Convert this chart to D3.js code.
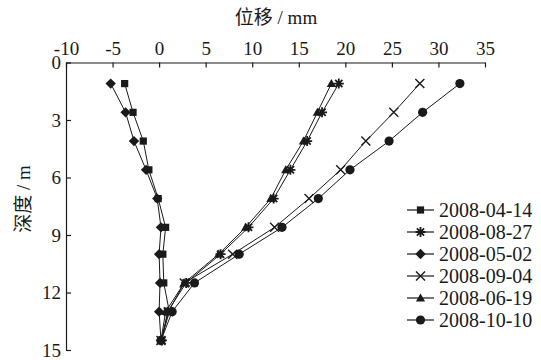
<!DOCTYPE html>
<html>
<head>
<meta charset="utf-8">
<script src="https://cdn.jsdelivr.net/npm/d3@7"></script>
<style>
	body { margin: 0; background: #fff; }
</style>
</head>
<body>
<svg id="chart"></svg>
<script>
let width = 541;
let height = 360;
const fontStack = '"Liberation Serif", "Times New Roman", Times, "Noto Sans CJK SC", serif';

// depth of each measuring point (m)
const depths = [1.1, 2.6, 4.1, 5.6, 7.1, 8.6, 10.0, 11.5, 13.0, 14.5];

// displacement (mm) per survey date
const d20080414 = [-3.7, -2.8, -1.7, -1.1, -0.1, 0.7, 0.4, 0.5, 1.1, 0.2];
const d20080502 = [-5.2, -3.6, -2.7, -1.4, -0.2, 0.2, 0.0, 0.1, 0.0, 0.2];
const d20080619 = [18.5, 17.0, 15.5, 13.6, 12.0, 9.3, 6.4, 2.7, 0.7, 0.2];
const d20080827 = [19.3, 17.5, 15.9, 14.1, 12.3, 9.6, 6.6, 2.9, 0.9, 0.3];
const d20080904 = [28.0, 25.2, 22.2, 19.5, 16.1, 12.4, 7.9, 2.7, 1.0, 0.2];
const d20081010 = [32.3, 28.3, 24.7, 20.5, 17.1, 13.2, 8.6, 3.8, 1.4, 0.2];

// legend order as in the figure
const seriesNames = ["2008-04-14", "2008-08-27", "2008-05-02", "2008-09-04", "2008-06-19", "2008-10-10"];
const seriesValues = [d20080414, d20080827, d20080502, d20080904, d20080619, d20081010];
const seriesMarkers = ["square", "asterisk", "diamond", "cross", "triangle", "circle"];

const xTicks = [-10, -5, 0, 5, 10, 15, 20, 25, 30, 35];
const yTicks = [0, 3, 6, 9, 12, 15];

const x = d3.scaleLinear().domain([-10, 35]).range([66, 485]);
const y = d3.scaleLinear().domain([0, 15]).range([62.5, 350]);

const ink = "#1a1a1a";

function drawMarker(g, type, cx, cy) {
	if (type === "square") {
		g.append("rect").attr("x", cx - 3.6).attr("y", cy - 3.6)
			.attr("width", 7.2).attr("height", 7.2).attr("fill", ink);
	} else if (type === "diamond") {
		g.append("path")
			.attr("d", `M${cx},${cy - 5.2}L${cx + 5.2},${cy}L${cx},${cy + 5.2}L${cx - 5.2},${cy}Z`)
			.attr("fill", ink);
	} else if (type === "triangle") {
		g.append("path")
			.attr("d", `M${cx},${cy - 4.6}L${cx + 4.6},${cy + 3.4}L${cx - 4.6},${cy + 3.4}Z`)
			.attr("fill", ink);
	} else if (type === "circle") {
		g.append("circle").attr("cx", cx).attr("cy", cy).attr("r", 4.6).attr("fill", ink);
	} else if (type === "cross") {
		const r = 4.5;
		g.append("path")
			.attr("d", `M${cx - r},${cy - r}L${cx + r},${cy + r}M${cx - r},${cy + r}L${cx + r},${cy - r}`)
			.attr("stroke", ink).attr("stroke-width", 1.4).attr("fill", "none");
	} else if (type === "asterisk") {
		const r = 5, q = 3.6;
		g.append("path")
			.attr("d", `M${cx - r},${cy}L${cx + r},${cy}M${cx},${cy - r}L${cx},${cy + r}` +
				`M${cx - q},${cy - q}L${cx + q},${cy + q}M${cx - q},${cy + q}L${cx + q},${cy - q}`)
			.attr("stroke", ink).attr("stroke-width", 1.8).attr("fill", "none");
		g.append("circle").attr("cx", cx).attr("cy", cy).attr("r", 2.2).attr("fill", ink);
	}
}

function draw() {
	const svg = d3.select("#chart");
	svg.selectAll("*").remove();
	svg.attr("width", width).attr("height", height);

	svg.append("rect").attr("width", width).attr("height", height).attr("fill", "#fff");

	// top axis
	const xAxis = svg.append("g")
		.attr("transform", `translate(0,${y(0)})`)
		.call(d3.axisTop(x).tickValues(xTicks).tickFormat((d) => String(d))
			.tickSizeInner(-5).tickSizeOuter(0).tickPadding(8));
	xAxis.attr("font-family", null);
	xAxis.selectAll("text")
		.style("font-family", fontStack).style("font-size", "19px").attr("fill", ink);

	// left axis
	const yAxis = svg.append("g")
		.attr("transform", `translate(${x(-10)},0)`)
		.call(d3.axisLeft(y).tickValues(yTicks).tickFormat((d) => String(d))
			.tickSizeInner(-5).tickSizeOuter(0).tickPadding(5));
	yAxis.attr("font-family", null);
	yAxis.selectAll("text")
		.style("font-family", fontStack).style("font-size", "19px").attr("fill", ink);

	svg.selectAll(".domain, .tick line").attr("stroke", ink).attr("stroke-width", 1.2);

	// axis titles
	svg.append("text")
		.attr("x", 276).attr("y", 24)
		.attr("text-anchor", "middle")
		.style("font-family", fontStack)
		.style("font-size", "19px")
		.attr("fill", ink)
		.text("位移 / mm");

	svg.append("text")
		.attr("transform", "translate(30,199) rotate(-90)")
		.attr("text-anchor", "middle")
		.style("font-family", fontStack)
		.style("font-size", "19px")
		.attr("fill", ink)
		.text("深度 / m");

	// series lines
	const line = d3.line()
		.x((d) => x(d[0]))
		.y((d) => y(d[1]));

	const plot = svg.append("g");
	seriesValues.forEach((vals, i) => {
		const pts = vals.map((v, j) => [v, depths[j]]);
		plot.append("path")
			.datum(pts)
			.attr("d", line)
			.attr("fill", "none")
			.attr("stroke", ink)
			.attr("stroke-width", 1);
	});
	seriesValues.forEach((vals, i) => {
		const g = plot.append("g");
		vals.forEach((v, j) => {
			drawMarker(g, seriesMarkers[i], x(v), y(depths[j]));
		});
	});

	// legend
	const legend = svg.append("g");
	seriesNames.forEach((name, i) => {
		const ly = 210 + i * 22;
		const g = legend.append("g");
		g.append("line")
			.attr("x1", 407).attr("x2", 434)
			.attr("y1", ly).attr("y2", ly)
			.attr("stroke", ink).attr("stroke-width", 1.2);
		drawMarker(g, seriesMarkers[i], 420.5, ly);
		g.append("text")
			.attr("x", 439).attr("y", ly)
			.attr("dy", "0.35em")
			.style("font-family", fontStack)
			.style("font-size", "20px")
			.attr("fill", ink)
			.text(name);
	});
}

draw();
</script>
</body>
</html>
